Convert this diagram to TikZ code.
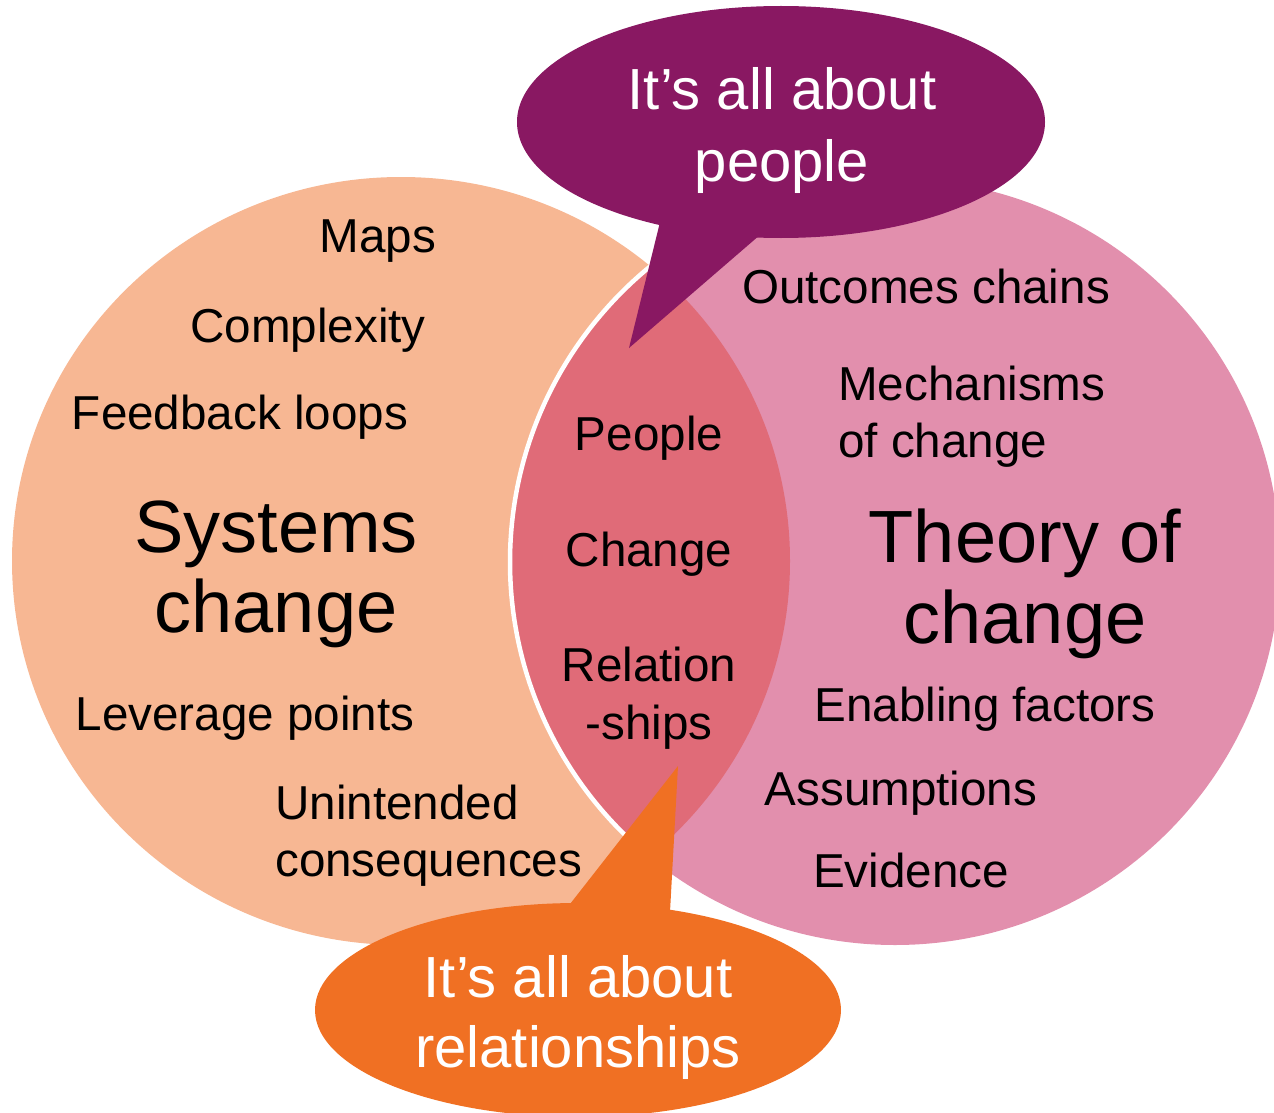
\documentclass[tikz,border=0pt]{standalone}
\usepackage{fontspec}
\setmainfont{Liberation Sans}
\definecolor{peach}{HTML}{F7B793}
\definecolor{rosy}{HTML}{E28FAD}
\definecolor{lensc}{HTML}{E06B78}
\definecolor{plum}{HTML}{891862}
\definecolor{tang}{HTML}{F07023}
\begin{document}
\begin{tikzpicture}[x=1pt,y=-1pt,
  lbl/.style={inner sep=0pt, anchor=base, font=\fontsize{47.6}{57}\selectfont},
  lbll/.style={inner sep=0pt, anchor=base west, font=\fontsize{47.6}{57}\selectfont},
  big/.style={inner sep=0pt, anchor=base, font=\fontsize{74}{80}\selectfont},
  call/.style={inner sep=0pt, anchor=base, text=white, font=\fontsize{58}{68}\selectfont}]
\useasboundingbox (0,0) rectangle (1274,1113);
% circles
\fill[peach] (401,561) ellipse [x radius=389, y radius=384];
\fill[rosy] (895,562) ellipse [x radius=385, y radius=383];
\begin{scope}
  \clip (401,561) ellipse [x radius=389, y radius=384];
  \fill[lensc] (895,562) ellipse [x radius=385, y radius=383];
  \draw[white, line width=4.5] (895,562) ellipse [x radius=385, y radius=383];
\end{scope}
% callouts
\fill[plum] (662,214) -- (629,348) -- (768,228) -- cycle;
\fill[plum] (781,122) ellipse [x radius=264, y radius=116];
\fill[tang] (563,913) -- (678,766) -- (669,930) -- cycle;
\fill[tang] (578,1010) ellipse [x radius=263, y radius=107];
% left texts
\node[lbl] (maps) at (378,252) {Maps};
\node[lbl] (cplx) at (308,342) {Complexity};
\node[lbl] (fbl) at (240,429) {Feedback loops};
\node[big] (sys1) at (276,552) {Systems};
\node[big] (sys2) at (276,632) {change};
\node[lbl] (lev) at (245,730) {Leverage points};
\node[lbll] (un1) at (275,819) {Unintended};
\node[lbll] (un2) at (275,876) {consequences};
% middle texts
\node[lbl] (ppl) at (649,450) {People};
\node[lbl] (chg) at (649,566) {Change};
\node[lbl] (rel1) at (649,681) {Relation};
\node[lbl] (rel2) at (649,739) {-ships};
% right texts
\node[lbl] (oc) at (926,303) {Outcomes chains};
\node[lbll] (mec1) at (838,400) {Mechanisms};
\node[lbll] (mec2) at (838,457) {of change};
\node[big] (toc1) at (1025,562) {Theory of};
\node[big] (toc2) at (1025,643) {change};
\node[lbl] (enf) at (985,721) {Enabling factors};
\node[lbl] (asm) at (901,805) {Assumptions};
\node[lbl] (evd) at (911,887) {Evidence};
% callout texts
\node[call] (pc1) at (782,110) {It’s all about};
\node[call] (pc2) at (782,181) {people};
\node[call] (oc1) at (578,997) {It’s all about};
\node[call] (oc2) at (578,1067) {relationships};
\end{tikzpicture}
\end{document}
